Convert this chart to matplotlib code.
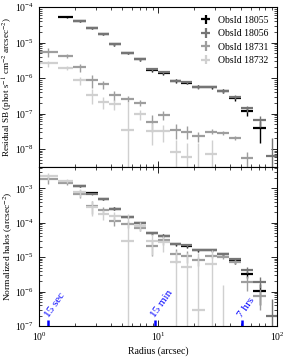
import numpy as np
import matplotlib
matplotlib.use("Agg")
import matplotlib.pyplot as plt

plt.rcParams['font.family'] = ['Liberation Serif', 'DejaVu Serif']
plt.rcParams['mathtext.fontset'] = 'stix'
plt.rcParams['font.size'] = 7

nan = np.nan

# radial bin centres (arcsec)
radius = [1.20, 1.71, 2.21, 2.80, 3.47, 4.30, 5.56, 7.06, 8.85, 11.1,
          14.1, 17.4, 21.8, 28.2, 35.4, 44.4, 55.6, 72.0, 90.2]

obsids = ['ObsId 18055', 'ObsId 18056', 'ObsId 18731', 'ObsId 18732']
colors = ['#000000', '#757575', '#9e9e9e', '#d0d0d0']

# residual surface brightness (top panel)
sb_18055 = [nan, 5.3e-5, 4.1e-5, 2.5e-5, 1.7e-5, 8.9e-6, 5.2e-6, 3.4e-6, 1.7e-6, 1.4e-6,
            8.3e-7, 7.4e-7, 5.7e-7, 5.6e-7, 4.3e-7, 2.7e-7, 1.15e-7, 3.8e-8, nan]
sb_18056 = [nan, nan, 4.1e-5, 2.5e-5, 1.7e-5, 8.9e-6, 5.2e-6, 3.4e-6, 1.75e-6, 1.45e-6,
            8.4e-7, 7.5e-7, 5.5e-7, 5.6e-7, 4.3e-7, 2.9e-7, 1.4e-7, 6.4e-8, 6.3e-9]
sb_18731 = [5.5e-6, 4.2e-6, 2.0e-6, 8.7e-7, 6.7e-7, 3.3e-7, 2.6e-7, 2.0e-7, 5.9e-8, 9.1e-8,
            3.5e-8, 3.1e-8, 2.3e-8, 3.1e-8, 2.9e-8, 2.1e-8, 5.5e-9, 2.1e-9, nan]
sb_18732 = [2.6e-6, 1.9e-6, 8.7e-7, 3.3e-7, 2.1e-7, 1.8e-7, 3.5e-8, 9.5e-8, 3.3e-8, 3.2e-8,
            8.3e-9, 6.0e-9, 3.4e-10, 7.2e-9, 5.7e-11, nan, nan, nan, nan]

# normalized halos (bottom panel)
halo_18055 = [nan, 1.55e-3, 1.2e-3, 7.2e-4, 5.0e-4, 2.6e-4, 1.45e-4, 9.7e-5, 4.9e-5, 4.2e-5,
              2.4e-5, 2.1e-5, 1.6e-5, 1.6e-5, 1.2e-5, 7.6e-6, 3.2e-6, 1.05e-6, nan]
halo_18056 = [nan, nan, 1.2e-3, 7.0e-4, 4.9e-4, 2.6e-4, 1.5e-4, 9.8e-5, 5.0e-5, 4.2e-5,
              2.4e-5, 2.2e-5, 1.6e-5, 1.6e-5, 1.2e-5, 8.7e-6, 4.3e-6, 1.9e-6, 1.9e-7]
halo_18731 = [1.93e-3, 1.47e-3, 7.0e-4, 3.0e-4, 2.35e-4, 1.15e-4, 9.1e-5, 7.0e-5, 2.1e-5, 3.2e-5,
              1.2e-5, 1.1e-5, 8.0e-6, 1.1e-5, 1.0e-5, 7.4e-6, 1.9e-6, 7.4e-7, nan]
halo_18732 = [2.26e-3, 1.65e-3, 7.6e-4, 2.9e-4, 1.8e-4, 1.6e-4, 3.0e-5, 8.3e-5, 2.9e-5, 2.8e-5,
              7.2e-6, 5.2e-6, 3.0e-7, 6.3e-6, 5.0e-8, nan, nan, nan, nan]

# fractional 1-sigma errors (same in both panels)
rel_18055 = [nan, .07, .06, .06, .06, .07, .07, .08, .1, .1, .1, .1, .1, .1, .12, .15, .25, .6, nan]
rel_18056 = [nan, nan, .06, .06, .06, .07, .07, .08, .08, .08, .08, .08, .08, .08, .1, .12, .2, .35, 2.2]
rel_18731 = [.3, .15, .25, .4, .25, .3, .2, .2, .5, .3, .45, .4, .3, .15, .12, .12, .45, .6, nan]
rel_18732 = [.2, .12, .25, .45, .35, .3, 5, .3, .6, .5, 1.1, 1.5, 42, 1.5, 30, nan, nan, nan, nan]

# crossing times marked along the bottom axis
time_r = [1.2, 9.4, 50.5]
time_lbl = ['15 sec', '15 min', '7 hrs']

r = np.array(radius)
edges = np.sqrt(r[:-1] * r[1:])
lo_edge = np.concatenate([[r[0] ** 2 / edges[0]], edges])
hi_edge = np.concatenate([edges, [r[-1] ** 2 / edges[-1]]])
xerr = [r - lo_edge, hi_edge - r]

top_sets = [sb_18055, sb_18056, sb_18731, sb_18732]
bot_sets = [halo_18055, halo_18056, halo_18731, halo_18732]
rels = [rel_18055, rel_18056, rel_18731, rel_18732]

fig = plt.figure(figsize=(2.87, 3.57), dpi=100)
ax1 = fig.add_axes([0.136, 0.533, 0.829, 0.447])
ax2 = fig.add_axes([0.136, 0.087, 0.829, 0.446], sharex=ax1)


def draw(ax, sets):
    handles = []
    for vals, rel, c, lab in zip(sets, rels, colors, obsids):
        v = np.array(vals)
        e = v * np.array(rel)
        eb = ax.errorbar(r, v, xerr=xerr, yerr=e, fmt='none', ecolor=c,
                         capsize=0, label=lab)
        eb[2][0].set_linewidth(1.6)
        eb[2][1].set_linewidth(1.0)
        handles.append(eb)
    return handles


h = draw(ax1, top_sets)
draw(ax2, bot_sets)

for ax in (ax1, ax2):
    ax.set_xscale('log')
    ax.set_yscale('log')
    ax.tick_params(which='both', direction='in', top=True, right=True, labelsize=7)
    ax.tick_params(which='major', length=4, width=0.6)
    ax.tick_params(which='minor', length=2, width=0.5)
    for s in ax.spines.values():
        s.set_linewidth(0.8)

ax1.set_xlim(1, 100)
ax1.set_ylim(10 ** -8.5, 1e-4)
ax2.set_ylim(1e-7, 10 ** -2.37)
plt.setp(ax1.get_xticklabels(), visible=False)

ax1.set_ylabel(r'Residual SB (phot s$^{-1}$ cm$^{-2}$ arcsec$^{-2}$)', fontsize=6.6)
ax2.set_ylabel(r'Normalized halos (arcsec$^{-2}$)', fontsize=6.8)
ax2.set_xlabel('Radius (arcsec)', fontsize=7, labelpad=2)
ax1.yaxis.set_label_coords(-0.1, 0.5)
ax2.yaxis.set_label_coords(-0.1, 0.5)

leg = ax1.legend(handles=h, loc='upper right', frameon=False, fontsize=7,
                 handlelength=0.9, handletextpad=0.8, labelspacing=0.45,
                 borderaxespad=0.5)

for xr, t in zip(time_r, time_lbl):
    ax2.vlines(xr, 1e-7, 1.45e-7, color='blue', lw=1.8)
    ax2.text(xr * 1.04, 1.6e-7, t, color='blue', fontsize=8, rotation=55,
             rotation_mode='anchor', ha='left', va='bottom')

fig.savefig('out.png', dpi=100)
